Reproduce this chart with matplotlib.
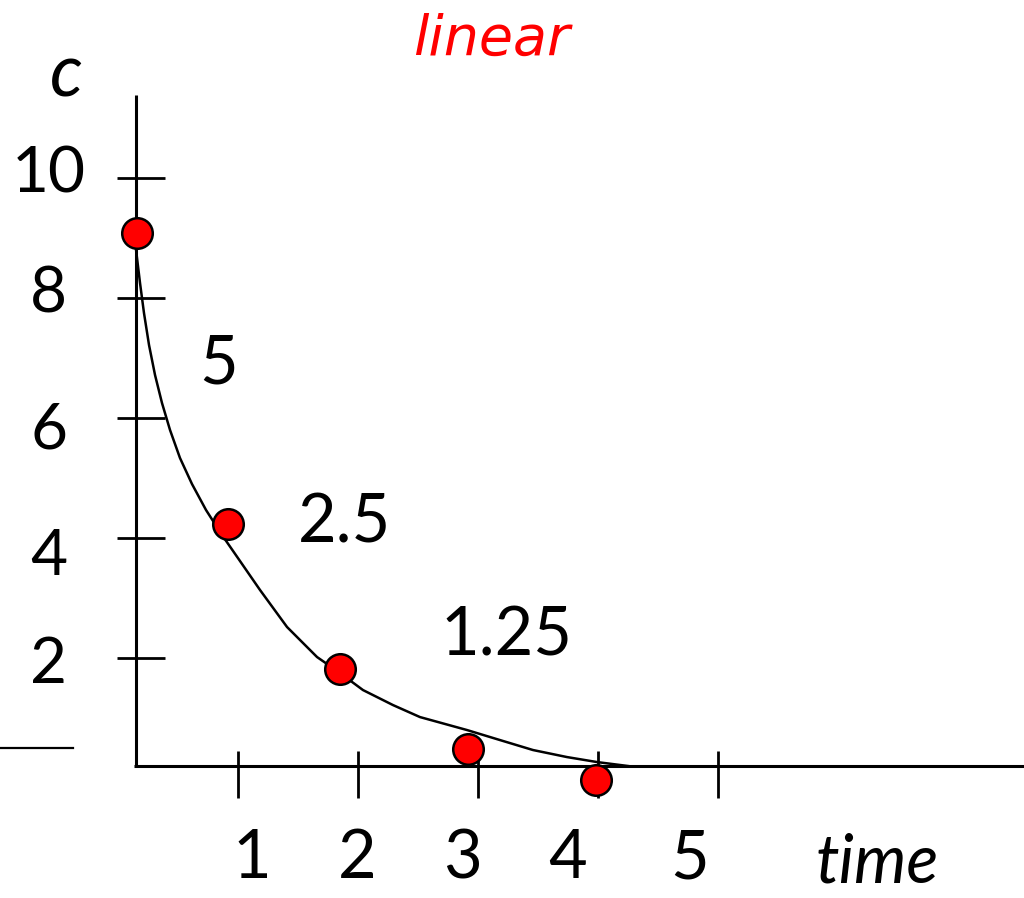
#!/usr/bin/env python3
"""Concentration vs time sketch: halving amounts on a linear scale."""

import matplotlib
matplotlib.use('Agg')
import matplotlib.pyplot as plt


POINT_T = [0.155, 0.913, 1.845, 2.913, 3.98]
POINT_C = [9.08, 4.23, 1.82, 0.49, -0.03]

# Hand drawn decay curve (time, c).
CURVE_T = [0.122, 0.147, 0.180, 0.213, 0.255, 0.305, 0.363, 0.430, 0.513,
           0.613, 0.730, 0.863, 1.013, 1.180, 1.405, 1.655, 1.847, 2.038,
           2.288, 2.513, 2.905, 3.180, 3.455, 3.738, 3.988, 4.247]
CURVE_C = [9.214, 8.797, 8.247, 7.748, 7.215, 6.716, 6.250, 5.800, 5.334,
           4.901, 4.468, 4.052, 3.619, 3.136, 2.520, 2.020, 1.753, 1.470,
           1.220, 1.020, 0.804, 0.637, 0.471, 0.354, 0.271, 0.205]

# Ticks and their labels.
X_TICKS = [1, 2, 3, 4, 5]
X_TICK_LABELS = ['1', '2', '3', '4', '5']
Y_TICKS = [2, 4, 6, 8, 10]
Y_TICK_LABELS = ['2', '4', '6', '8', '10']

# Amounts written next to the curve.
STEP_LABELS = ['5', '2.5', '1.25']

TITLE = 'linear'
Y_NAME = 'c'
X_NAME = 'time'

###############################################################################
# Layout (data units of the drawing)
###############################################################################

XLIM = (-0.987, 7.547)
YLIM = (-1.993, 12.961)

AXIS_X = 0.147          # where the vertical axis stands
AXIS_Y = 0.205          # where the horizontal axis lies
AXIS_TOP = 11.38

X_TICK_LABEL_POS = [1.113, 1.988, 2.863, 3.747, 4.763]
X_TICK_LABEL_BASE = -1.66
Y_TICK_LABEL_POS = [1.59, 3.39, 5.50, 7.75, 9.75]
Y_TICK_LABEL_X = -0.58

STEP_LABEL_POS = [(0.838, 6.58), (1.880, 3.92), (3.238, 2.05)]

FONT = 'Lato'


def main():
    fig = plt.figure(figsize=(10.24, 8.98), dpi=100)
    ax = fig.add_axes([0, 0, 1, 1])
    ax.set_xlim(*XLIM)
    ax.set_ylim(*YLIM)
    ax.axis('off')

    # Axes lines.
    ax.plot([AXIS_X, AXIS_X], [AXIS_Y, AXIS_TOP], color='black', lw=2.2,
            solid_capstyle='butt')
    ax.plot([AXIS_X - 0.02, XLIM[1]], [AXIS_Y, AXIS_Y], color='black', lw=2.2,
            solid_capstyle='butt')
    # Stray stroke on the left.
    ax.plot([XLIM[0], -0.378], [0.505, 0.505], color='black', lw=1.6)

    # Tick marks crossing the axes.
    ax.hlines(Y_TICKS, -0.012, 0.388, color='black', lw=2.0)
    ax.vlines(X_TICKS, -0.328, 0.455, color='black', lw=2.0)

    # Tick labels.
    for x, text in zip(X_TICK_LABEL_POS, X_TICK_LABELS):
        ax.text(x, X_TICK_LABEL_BASE, text, ha='center', va='baseline',
                fontsize=48, family=FONT)
    for y, text in zip(Y_TICK_LABEL_POS, Y_TICK_LABELS):
        ax.text(Y_TICK_LABEL_X, y, text, ha='center', va='baseline',
                fontsize=46, family=FONT)

    # Curve and points.
    ax.plot(CURVE_T, CURVE_C, color='black', lw=1.8, zorder=3,
            solid_joinstyle='round')
    ax.plot(POINT_T, POINT_C, 'o', ms=22, mfc='red', mec='black', mew=1.8,
            zorder=4, clip_on=False)

    # Amounts along the curve.
    for (x, y), text in zip(STEP_LABEL_POS, STEP_LABELS):
        ax.text(x, y, text, ha='center', va='baseline', fontsize=48,
                family=FONT)

    # Names.
    ax.text(3.113, 12.05, TITLE, ha='center', va='baseline', fontsize=40,
            color='red', style='italic', family='DejaVu Sans')
    ax.text(-0.437, 11.35, Y_NAME, ha='center', va='baseline', fontsize=52,
            style='italic', family=FONT)
    ax.text(6.32, -1.74, X_NAME, ha='center', va='baseline', fontsize=48,
            style='italic', family=FONT)

    fig.savefig('out.png', dpi=100)


if __name__ == '__main__':
    main()
